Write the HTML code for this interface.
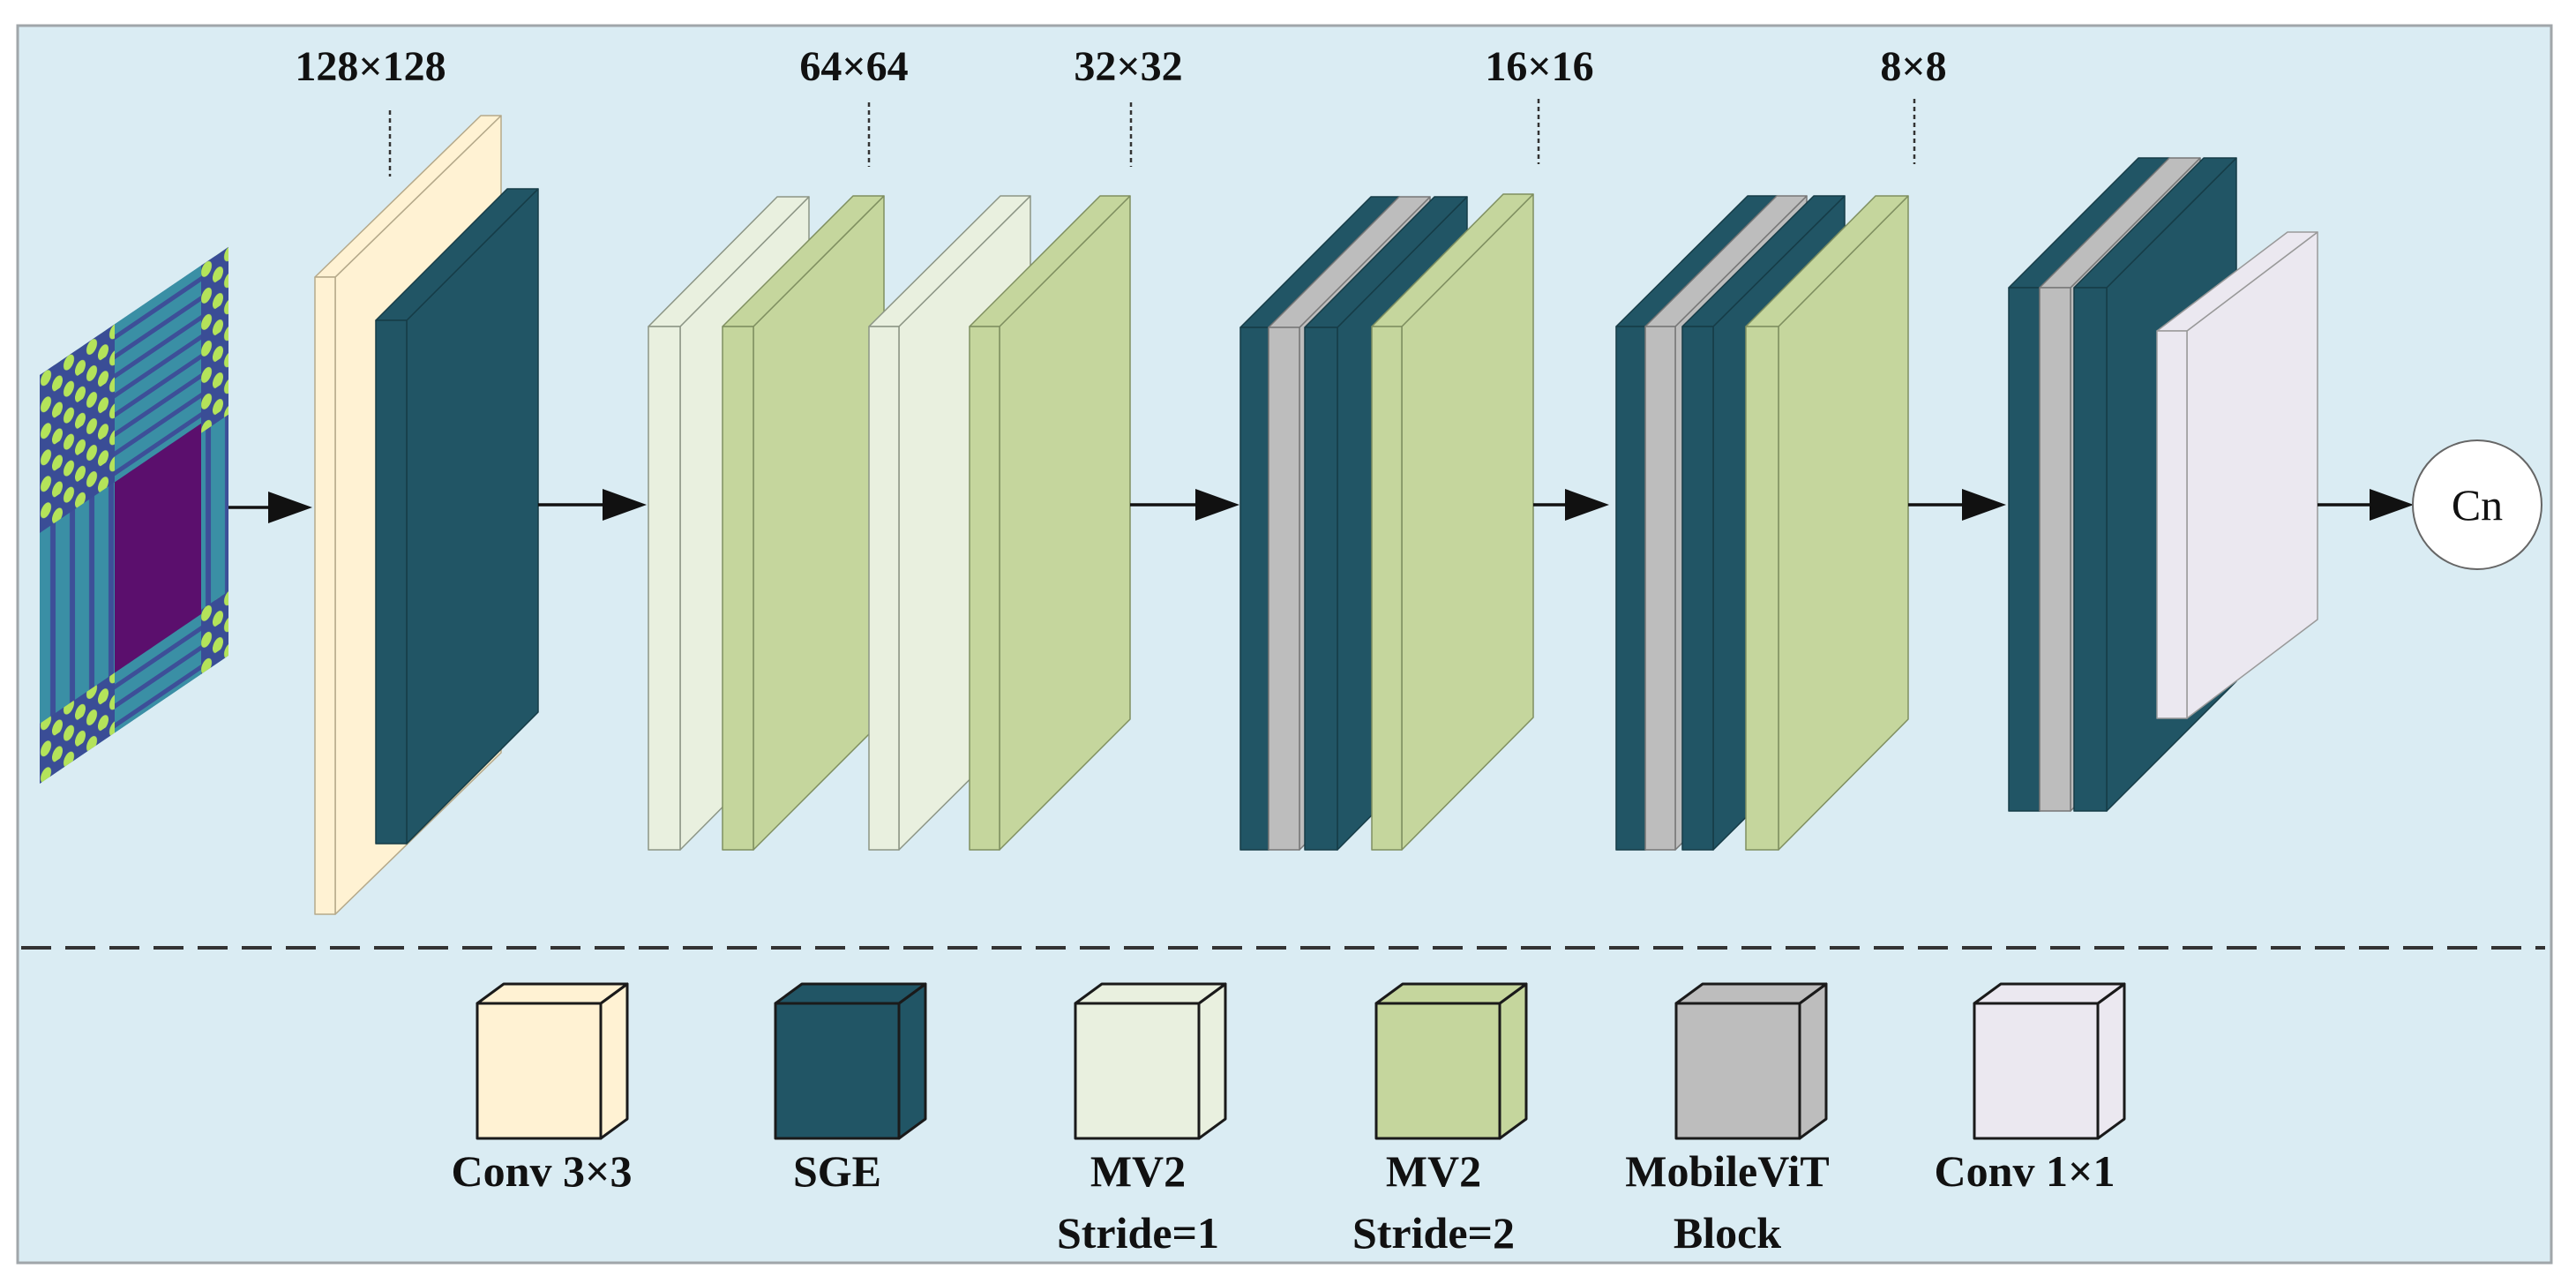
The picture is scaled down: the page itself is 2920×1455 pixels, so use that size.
<!DOCTYPE html>
<html><head><meta charset="utf-8"><style>html,body{margin:0;padding:0;background:#fff}svg{display:block}</style></head>
<body>
<svg xmlns="http://www.w3.org/2000/svg" width="2920" height="1455" viewBox="0 0 2920 1455">
<defs>
<pattern id="dots" width="26" height="30" patternUnits="userSpaceOnUse"><rect width="26" height="30" fill="#3a4d96"/><ellipse cx="7" cy="8" rx="6" ry="8" fill="#b4e35a"/><ellipse cx="20" cy="23" rx="6" ry="8" fill="#b4e35a"/></pattern>
<pattern id="vs" width="22" height="10" patternUnits="userSpaceOnUse"><rect width="22" height="10" fill="#3a8fa5"/><rect x="12" width="6" height="10" fill="#3d4f98"/></pattern>
<pattern id="hs" width="10" height="22" patternUnits="userSpaceOnUse"><rect width="10" height="22" fill="#3a8fa5"/><rect y="12" width="10" height="6" fill="#3d4f98"/></pattern>
</defs>
<rect x="20" y="29" width="2872" height="1402" fill="#daecf3" stroke="#a0a6aa" stroke-width="3"/>
<line x1="24" y1="1074" x2="2885" y2="1074" stroke="#333" stroke-width="4" stroke-dasharray="34 16"/>

<g transform="translate(45,425) matrix(1,-0.678,0,1,0,0)">
<rect x="0" y="0" width="214" height="463" fill="url(#vs)"/>
<rect x="85" y="0" width="98" height="179" fill="url(#hs)"/>
<rect x="0" y="0" width="85" height="179" fill="url(#dots)"/>
<rect x="183" y="0" width="31" height="190" fill="url(#dots)"/>
<rect x="183" y="190" width="31" height="200" fill="url(#vs)"/>
<rect x="183" y="390" width="31" height="73" fill="url(#dots)"/>
<rect x="85" y="395" width="98" height="68" fill="url(#hs)"/>
<rect x="0" y="395" width="85" height="68" fill="url(#dots)"/>
<rect x="85" y="179" width="98" height="216" fill="#5b0f6d"/>
</g>

<g id="slabs"></g>

<g font-family="Liberation Serif, serif" font-weight="bold" font-size="48" text-anchor="middle" fill="#111">
<text x="420" y="91">128×128</text>
<text x="968" y="91">64×64</text>
<text x="1279" y="91">32×32</text>
<text x="1745" y="91">16×16</text>
<text x="2169" y="91">8×8</text>
</g>
<g stroke="#333" stroke-width="2.5" stroke-dasharray="5 4">
<line x1="442" y1="125" x2="442" y2="200"/>
<line x1="985" y1="116" x2="985" y2="189"/>
<line x1="1282" y1="116" x2="1282" y2="189"/>
<line x1="1744" y1="112" x2="1744" y2="186"/>
<line x1="2170" y1="112" x2="2170" y2="186"/>
</g>

<g stroke="#111" stroke-width="3.5" fill="#111">
<line x1="259" y1="575" x2="310" y2="575"/><polygon points="304,557 354,575 304,593" stroke="none"/>
<line x1="610" y1="572" x2="690" y2="572"/><polygon points="683,554 733,572 683,590" stroke="none"/>
<line x1="1281" y1="572" x2="1360" y2="572"/><polygon points="1355,554 1405,572 1355,590" stroke="none"/>
<line x1="1738" y1="572" x2="1780" y2="572"/><polygon points="1774,554 1824,572 1774,590" stroke="none"/>
<line x1="2163" y1="572" x2="2230" y2="572"/><polygon points="2224,554 2274,572 2224,590" stroke="none"/>
<line x1="2627" y1="572" x2="2690" y2="572"/><polygon points="2686,554 2736,572 2686,590" stroke="none"/>
</g>
<circle cx="2808" cy="572" r="73" fill="#fff" stroke="#666" stroke-width="2"/>
<text x="2808" y="589" font-family="Liberation Serif, serif" font-size="50" text-anchor="middle" fill="#111">Cn</text>

<g font-family="Liberation Serif, serif" font-weight="bold" font-size="50" text-anchor="middle" fill="#111">
<text x="614" y="1344">Conv 3×3</text>
<text x="949" y="1344">SGE</text>
<text x="1290" y="1344">MV2</text>
<text x="1290" y="1414">Stride=1</text>
<text x="1625" y="1344">MV2</text>
<text x="1625" y="1414">Stride=2</text>
<text x="1958" y="1344">MobileViT</text>
<text x="1958" y="1414">Block</text>
<text x="2295" y="1344">Conv 1×1</text>
</g>
<g id="legend"></g>

<script>
var NS="http://www.w3.org/2000/svg";
function poly(g,pts,fill,stroke,sw){var p=document.createElementNS(NS,"polygon");p.setAttribute("points",pts.map(function(a){return a.join(",")}).join(" "));p.setAttribute("fill",fill);p.setAttribute("stroke",stroke);p.setAttribute("stroke-width",sw);p.setAttribute("stroke-linejoin","round");g.appendChild(p);}
function slab(g,x,y,w,h,dx,dy,fill,stroke,sw){
 poly(g,[[x+w,y],[x+w+dx,y-dy],[x+w+dx,y+h-dy],[x+w,y+h]],fill,stroke,sw);
 poly(g,[[x,y],[x+dx,y-dy],[x+w+dx,y-dy],[x+w,y]],fill,stroke,sw);
 poly(g,[[x,y],[x+w,y],[x+w,y+h],[x,y+h]],fill,stroke,sw);
}
var Y="#fff2d3",T="#215565",L="#e9f0df",G="#c5d69d",R="#bdbdbd",W="#ebe8f0";
var sY="#b5a98a",sT="#163c47",sL="#8c9585",sG="#7f8f60",sR="#777",sW="#999";
var g=document.getElementById("slabs");
var S=[
[357,314,23,722,188,183,Y,sY],
[426,363,35,593,149,149,T,sT],
[735,370,36,593,146,147,L,sL],
[819,370,35,593,148,148,G,sG],
[985,370,34,593,149,148,L,sL],
[1099,370,34,593,148,148,G,sG],
[1406,371,32,592,148,148,T,sT],
[1438,371,35,592,148,148,R,sR],
[1479,371,37,592,147,148,T,sT],
[1555,370,34,593,149,150,G,sG],
[1832,370,33,593,149,148,T,sT],
[1865,370,34,593,149,148,R,sR],
[1907,370,35,593,149,148,T,sT],
[1979,370,37,593,147,148,G,sG],
[2277,326,35,593,147,147,T,sT],
[2312,326,35,593,147,147,R,sR],
[2351,326,37,593,147,147,T,sT],
[2445,375,34,439,148,112,W,sW]
];
S.forEach(function(s){slab(g,s[0],s[1],s[2],s[3],s[4],s[5],s[6],s[7],1.5);});
var lg=document.getElementById("legend");
[[541,Y],[879,T],[1219,L],[1560,G],[1900,R],[2238,W]].forEach(function(b){slab(lg,b[0],1137,140,153,30,22,b[1],"#1a1a1a",3);});
</script>
</svg>
</body></html>
